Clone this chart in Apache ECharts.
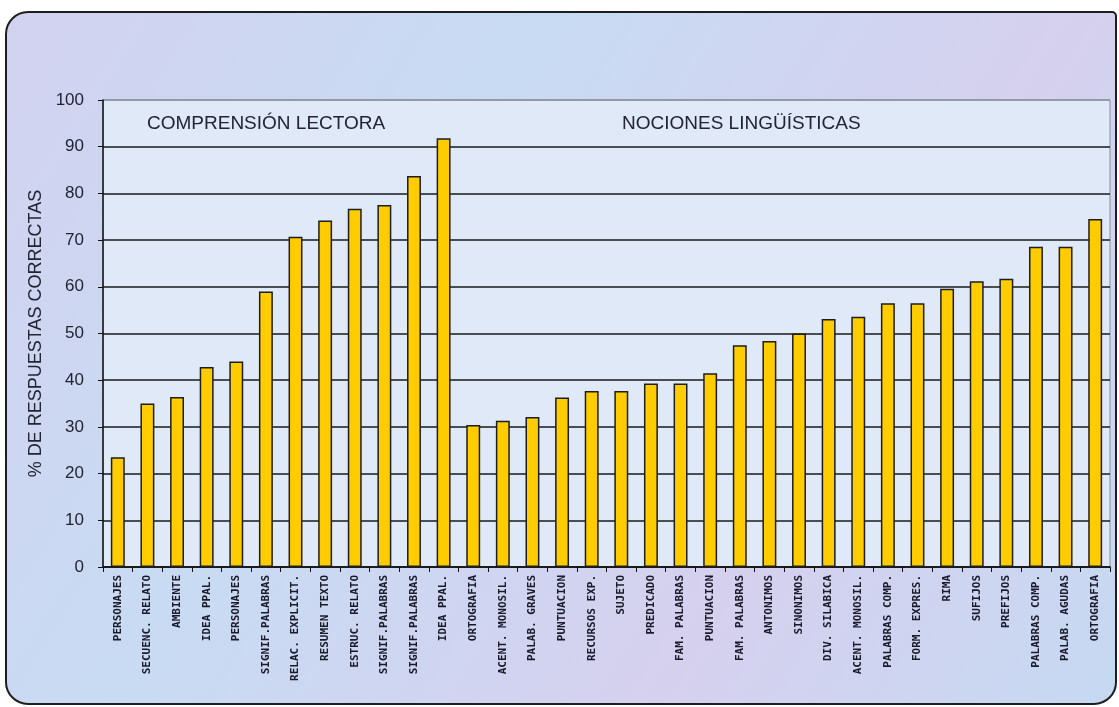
<!DOCTYPE html>
<html>
<head>
<meta charset="utf-8">
<style>
  html, body { margin: 0; padding: 0; background: #fff; }
  #chart { width: 1119px; height: 707px; }
</style>
<script src="https://cdn.jsdelivr.net/npm/echarts@6/dist/echarts.min.js"></script>
</head>
<body>
<div id="chart"></div>
<script>
// comprension lectora (12) + nociones linguisticas (22)
const categories = [
  "PERSONAJES", "SECUENC. RELATO", "AMBIENTE", "IDEA PPAL.", "PERSONAJES",
  "SIGNIF.PALABRAS", "RELAC. EXPLICIT.", "RESUMEN TEXTO", "ESTRUC. RELATO",
  "SIGNIF.PALABRAS", "SIGNIF.PALABRAS", "IDEA PPAL.",
  "ORTOGRAFIA", "ACENT. MONOSIL.", "PALAB. GRAVES", "PUNTUACION", "RECURSOS EXP.",
  "SUJETO", "PREDICADO", "FAM. PALABRAS", "PUNTUACION", "FAM. PALABRAS",
  "ANTONIMOS", "SINONIMOS", "DIV. SILABICA", "ACENT. MONOSIL.", "PALABRAS COMP.",
  "FORM. EXPRES.", "RIMA", "SUFIJOS", "PREFIJOS", "PALABRAS COMP.",
  "PALAB. AGUDAS", "ORTOGRAFIA"
];
const values = [
  23.5, 35.0, 36.4, 42.8, 44.0, 59.0, 70.7, 74.2, 76.7, 77.5, 83.7, 91.8,
  30.4, 31.3, 32.1, 36.3, 37.7, 37.7, 39.3, 39.3, 41.5, 47.5, 48.4,
  50.0, 53.1, 53.6, 56.5, 56.5, 59.6, 61.2, 61.7, 68.6, 68.6, 74.5
];
const yTicks = [0, 10, 20, 30, 40, 50, 60, 70, 80, 90, 100];
const sectionTitles = ["COMPRENSIÓN LECTORA", "NOCIONES LINGÜÍSTICAS"];

const chart = echarts.init(document.getElementById("chart"));

// 11 split lines, the top one (100) is the grey plot border
const splitColors = yTicks.map((t) => (t === 100 ? "#8a8f9c" : "#1a1a1a"));
const textColor = "#222433";

const option = {
  animation: false,
  backgroundColor: "#ffffff",
  graphic: [
    {
      type: "rect",
      z: -10,
      shape: { x: 6, y: 12, width: 1110, height: 692, r: [22, 4, 22, 22] },
      style: {
        fill: new echarts.graphic.LinearGradient(0, 0, 1, 1, [
          { offset: 0, color: "#d2d2ef" },
          { offset: 0.35, color: "#c8dbf3" },
          { offset: 0.7, color: "#d5d0ee" },
          { offset: 1, color: "#c6d9f2" }
        ]),
        stroke: "#1e1e1e",
        lineWidth: 2
      }
    },
    {
      type: "text",
      left: 147,
      top: 114,
      style: { text: sectionTitles[0], fontFamily: "Liberation Sans, Arial", fontSize: 19, fill: textColor }
    },
    {
      type: "text",
      left: 622,
      top: 114,
      style: { text: sectionTitles[1], fontFamily: "Liberation Sans, Arial", fontSize: 19, fill: textColor }
    }
  ],
  grid: {
    left: 103,
    right: 9,
    top: 100,
    bottom: 140,
    show: true,
    backgroundColor: "#dfe9f7",
    borderColor: "#8a8f9c",
    borderWidth: 1
  },
  xAxis: {
    type: "category",
    data: categories,
    axisLine: { lineStyle: { color: "#111", width: 1.5 } },
    axisTick: { show: true, length: 5, lineStyle: { color: "#111" } },
    axisLabel: {
      rotate: 90,
      interval: 0,
      margin: 8,
      fontFamily: "DejaVu Sans Mono",
      fontWeight: "bold",
      fontSize: 11,
      color: "#1a1a2a"
    }
  },
  yAxis: {
    type: "value",
    min: 0,
    max: 100,
    interval: 10,
    name: "% DE RESPUESTAS CORRECTAS",
    nameLocation: "middle",
    nameGap: 54,
    nameTextStyle: { fontFamily: "Liberation Sans, Arial", fontSize: 18, color: textColor },
    axisLine: { show: true, lineStyle: { color: "#111", width: 1.5 } },
    axisTick: { show: true, length: 5, lineStyle: { color: "#111" } },
    axisLabel: {
      fontFamily: "Liberation Sans, Arial",
      fontSize: 17,
      color: textColor,
      margin: 19
    },
    splitLine: { show: true, lineStyle: { color: splitColors, width: 1.5 } }
  },
  series: [
    {
      type: "bar",
      data: values,
      barWidth: "47%",
      itemStyle: {
        color: "#ffcc00",
        borderColor: "#1e1e1e",
        borderWidth: 1.5
      }
    }
  ]
};

chart.setOption(option);
</script>
</body>
</html>
